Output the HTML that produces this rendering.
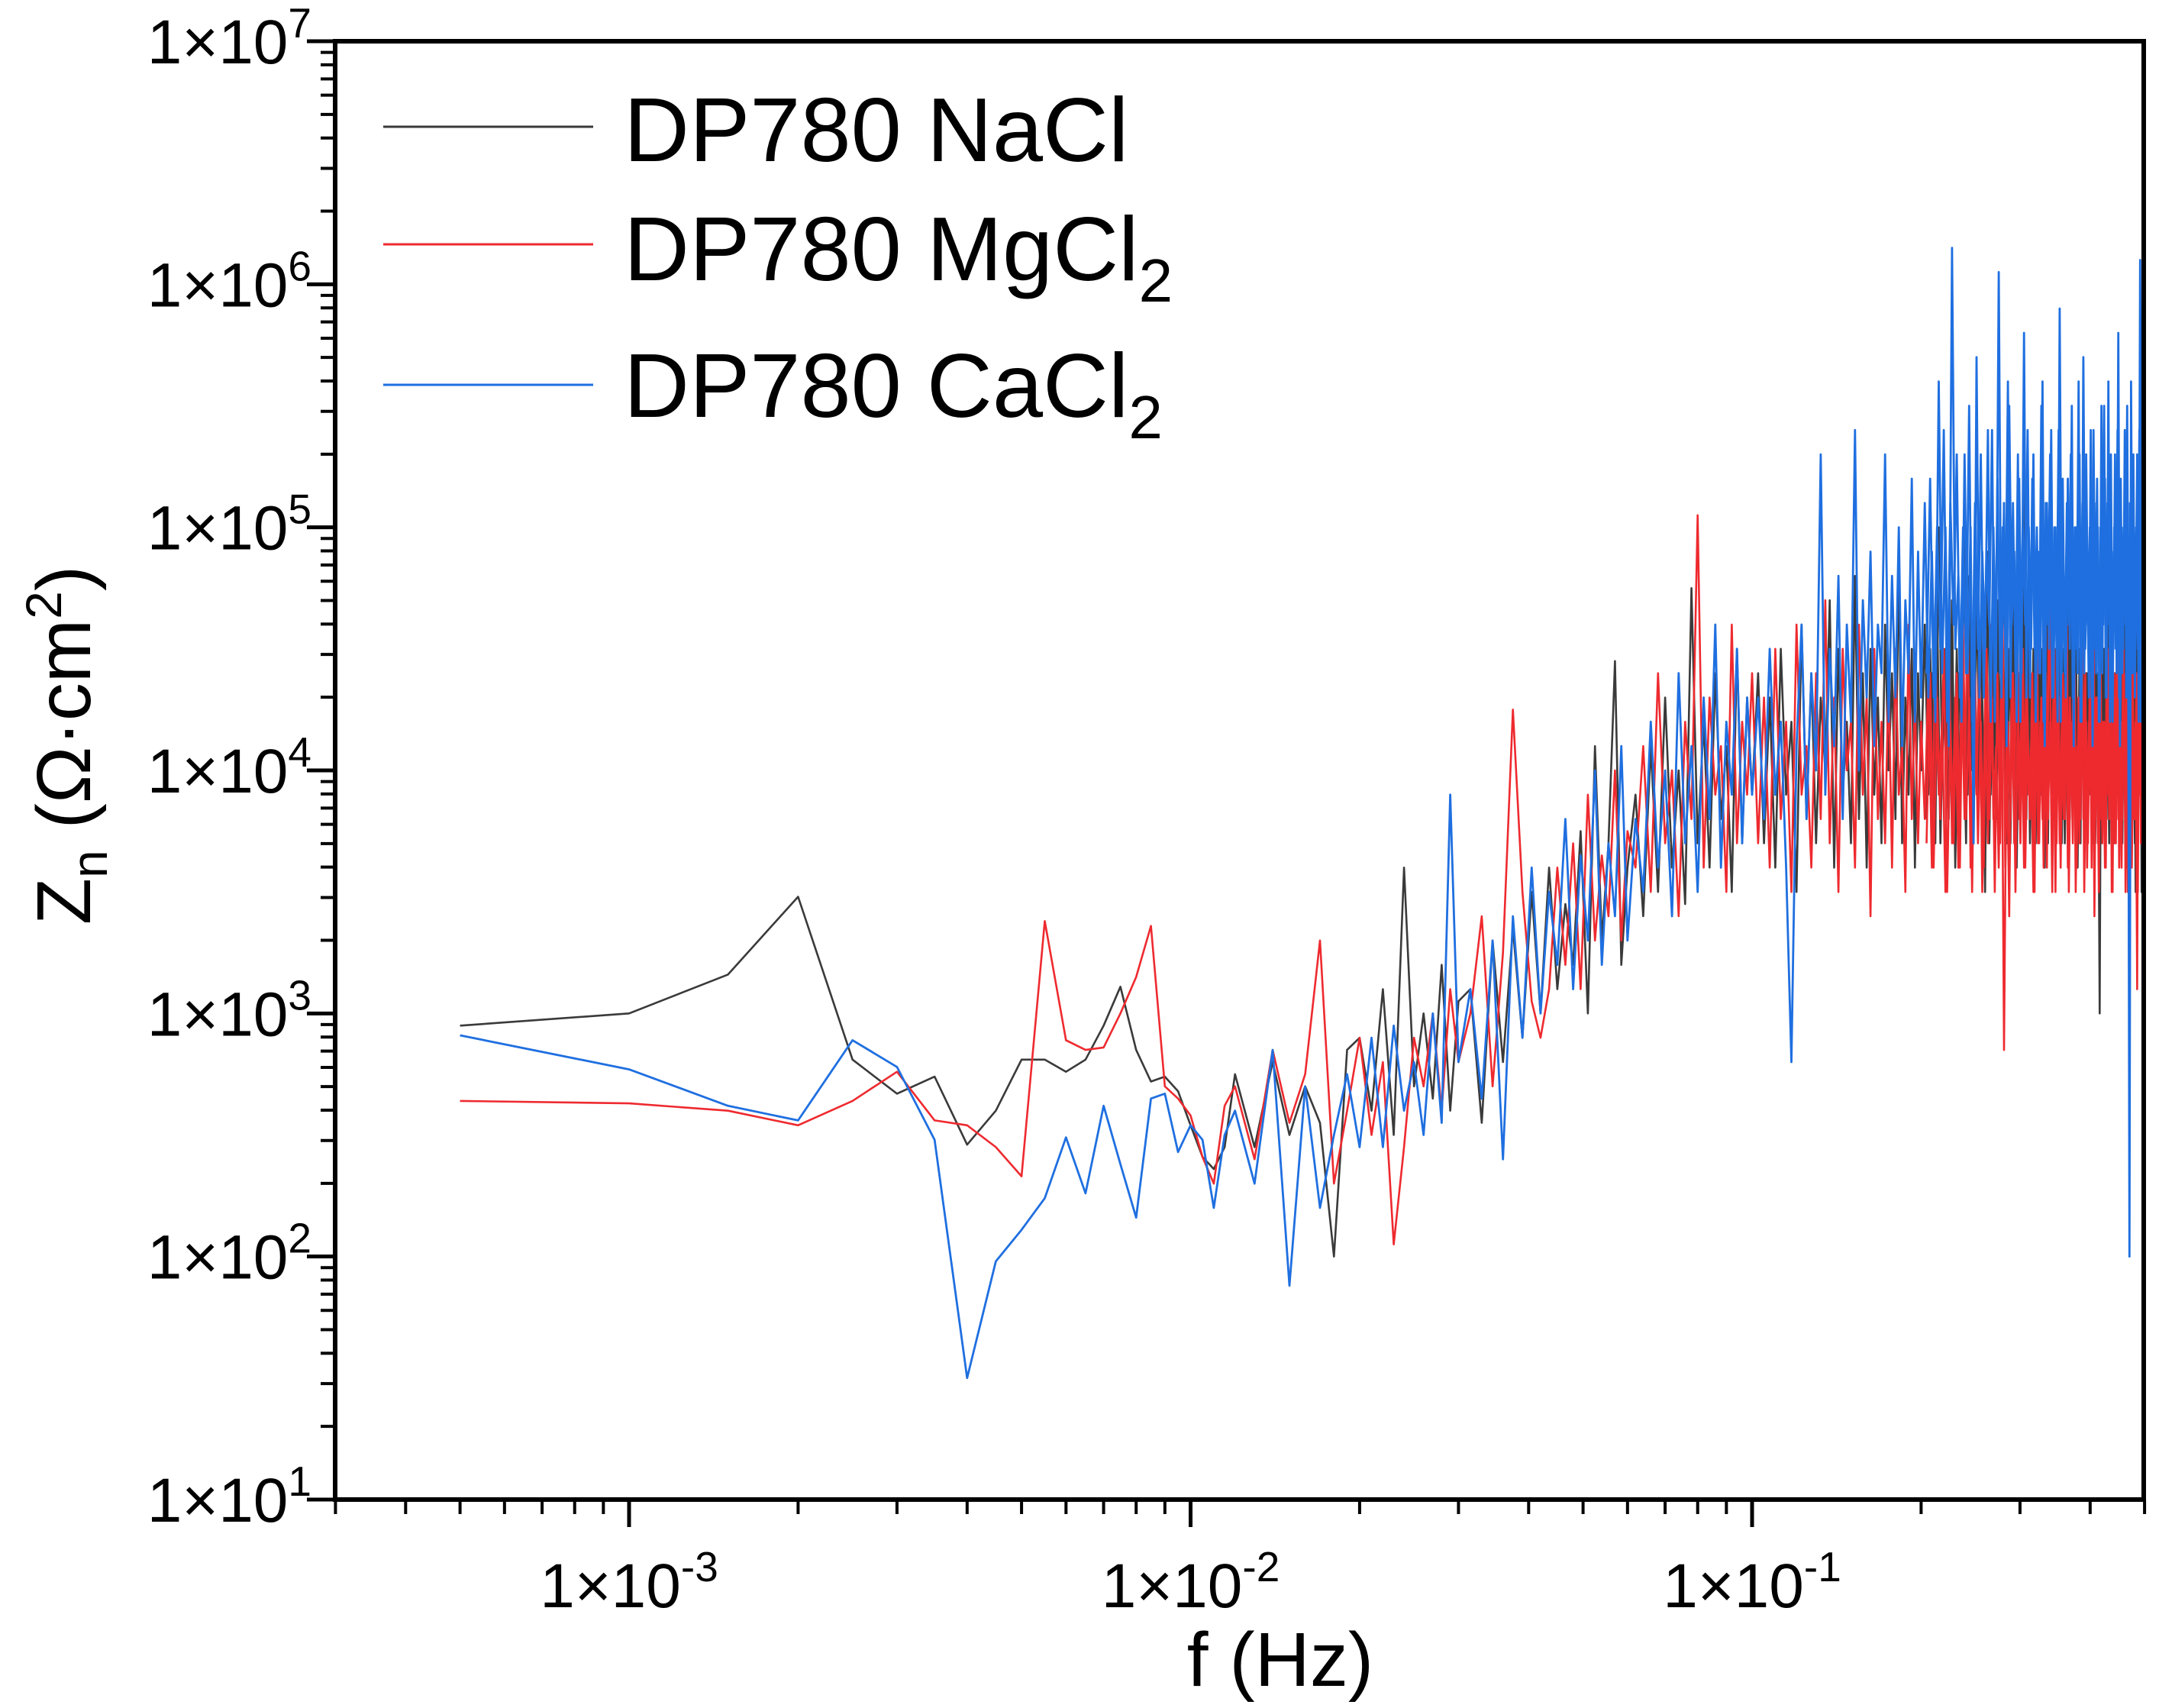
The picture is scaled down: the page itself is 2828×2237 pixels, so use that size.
<!DOCTYPE html>
<html><head><meta charset="utf-8"><style>
html,body{margin:0;padding:0;background:#fff;}
svg{display:block;font-family:"Liberation Sans",Arial,sans-serif;}
</style></head><body>
<svg id="chart" width="2828" height="2237" viewBox="0 0 2828 2237" xmlns="http://www.w3.org/2000/svg">
<defs><clipPath id="pc"><rect x="439" y="54" width="2369" height="1910"/></clipPath></defs>
<g id="series" clip-path="url(#pc)"></g>
<g id="axes"></g>
<g id="legend">
  <line x1="502" y1="166" x2="777" y2="166" stroke="#3a3a3a" stroke-width="3"/>
  <text x="817" y="211" font-size="119">DP780 NaCl</text>
  <line x1="502" y1="320" x2="777" y2="320" stroke="#ee2a2f" stroke-width="3"/>
  <text x="817" y="367" font-size="119">DP780 MgCl<tspan font-size="80" dy="28">2</tspan></text>
  <line x1="502" y1="504" x2="777" y2="504" stroke="#1f6fe0" stroke-width="3"/>
  <text x="817" y="546" font-size="119">DP780 CaCl<tspan font-size="80" dy="28">2</tspan></text>
</g>
<text x="1677" y="2208" font-size="100" text-anchor="middle">f (Hz)</text>
<text transform="translate(118,976) rotate(-90)" font-size="100" text-anchor="middle">Z<tspan font-size="66" dy="22">n</tspan><tspan dy="-22"> (Ω·cm</tspan><tspan font-size="66" dy="-38">2</tspan><tspan dy="38">)</tspan></text>
</svg>
<script>
const dF = 0.0005;
const freqK = [1,2,3,4,5,6,7,8,9,10,11,12,13,14,15,16,17,18,19,20,21,22,23,
24,26,28,30,32,34,36,38,40,42,44,46,48,50,52,54,56,58,60,
63,66,69,72,75,78,81,84,87,90,93,96,99,102,105,108,111,114,117,120,
124,128,132,136,140,144,148,152,156,160,164,168,172,176,180,184,188,192,196,200,
205,210,215,220,225,230,235,240,245,250,255,260,265,270,275,280,285,290,295,300,305,310,315,320,325,330,335,340,345,350,355,360,365,370,375,380,385,390,395,400,
406,412,418,424,430,436,442,448,454,460,466,472,478,484,490,496,502,508,514,520,526,532,538,544,550,556,562,568,574,580,586,592,598,604,610,616,622,628,634,640,646,652,658,664,670,676,682,688,694,700,706,712,718,724,730,736,742,748,754,760,766,772,778,784,790,796,802,808,814,820,826,832,838,844,850,856,862,868,874,880,886,892,898,904,910,916,922,928,934,940,946,952,958,964,970,976,982,988,994,1000];
const freqK2 = [409,415,421,427,433,439,445,451,457,463,469,475,481,487,493,499,505,511,517,523,529,535,541,547,553,559,565,571,577,583,589,595,601,607,613,619,625,631,637,643,649,655,661,667,673,679,685,691,697,703,709,715,721,727,733,739,745,751,757,763,769,775,781,787,793,799,805,811,817,823,829,835,841,847,853,859,865,871,877,883,889,895,901,907,913,919,925,931,937,943,949,955,961,967,973,979,985,991,997];
const logNaCl = [2.95,3.0,3.16,3.48,2.81,2.67,2.74,2.46,2.6,2.81,2.81,2.76,2.81,2.95,3.11,2.85,2.72,2.74,2.68,2.54,2.41,2.36,2.45,
2.75,2.45,2.8,2.5,2.7,2.55,2.0,2.85,2.9,2.6,3.1,2.5,3.6,2.7,3.0,2.65,3.2,2.6,3.05,
3.1,2.55,3.3,2.8,3.35,2.9,3.5,3.0,3.6,3.1,3.45,3.2,3.75,3.0,4.1,3.3,3.7,4.45,3.2,3.6,
3.9,3.4,4.1,3.5,4.3,3.6,4.0,3.45,4.75,3.7,4.2,3.6,4.4,3.8,4.1,3.5,4.5,3.7,4.3,3.9,
4.4,3.7,4.3,3.6,4.5,3.9,4.2,3.5,4.6,3.8,4.4,3.7,4.3,4.0,4.7,3.6,4.5,3.9,4.2,3.7,4.8,3.8,4.4,3.6,4.5,3.9,4.3,3.7,4.6,4.0,4.4,3.8,4.9,3.7,4.3,3.9,4.5,3.6,4.4,4.0,
4.6,3.9,4.4,3.7,5.0,4.0,4.5,3.8,4.7,3.6,4.4,4.1,5.2,3.9,4.5,3.7,4.8,4.0,4.3,3.5,4.9,3.9,4.6,3.8,4.4,4.1,5.1,3.7,4.5,4.0,4.8,3.6,4.4,3.9,5.3,3.8,4.6,4.0,4.5,3.7,4.9,3.9,4.3,3.6,4.7,4.0,5.0,3.8,4.5,3.9,4.6,3.7,4.4,4.1,5.2,3.8,4.6,3.9,4.8,3.6,4.5,4.0,4.7,3.8,4.4,3.9,5.0,3.7,4.6,4.0,4.3,3.0,4.8,3.9,4.5,3.8,5.1,4.0,4.6,3.7,4.4,3.9,4.9,3.8,4.5,4.1,4.7,3.6,4.4,3.9,5.0,3.8,4.6,3.5,4.5,3.9,4.8,3.5,4.6,4.2];
const logNaCl2 = [3.8,4.5,3.9,4.7,3.7,4.4,4.0,4.6,3.8,4.5,3.9,4.3,3.7,4.8,4.0,4.4,3.8,4.6,3.9,4.5,3.7,4.4,4.0,4.7,3.8,4.5,3.9,4.3,3.7,4.6,4.0,4.4,3.8,4.8,3.9,4.5,3.7,4.4,4.0,4.6,3.8,4.5,3.9,4.3,3.7,4.7,4.0,4.4,3.8,4.6,3.9,4.5,3.7,4.4,4.0,4.8,3.8,4.5,3.9,4.3,3.7,4.6,4.0,4.4,3.8,4.7,3.9,4.5,3.7,4.4,4.0,4.6,3.8,4.5,3.9,4.3,3.7,4.8,4.0,4.4,3.8,4.6,3.9,4.5,3.7,4.4,4.0,4.7,3.8,4.5,3.9,4.3,3.7,4.6,4.0,4.4,3.8,4.5,3.9];
const logMgCl2 = [2.64,2.63,2.6,2.54,2.64,2.76,2.56,2.54,2.45,2.33,3.38,2.89,2.85,2.86,3.0,3.15,3.36,2.7,2.65,2.58,2.41,2.3,2.62,
2.7,2.4,2.85,2.55,2.75,3.3,2.3,2.6,2.9,2.5,2.8,2.05,2.45,2.9,2.7,3.0,2.6,3.1,2.8,
3.0,3.4,2.7,3.25,4.25,3.5,3.05,2.9,3.1,3.6,3.2,3.7,3.1,3.9,3.3,3.65,3.4,4.0,3.3,3.75,
3.6,4.1,3.5,4.4,3.7,4.0,3.4,4.2,3.8,5.05,3.6,4.3,3.9,4.1,3.5,4.6,3.7,4.2,3.9,4.4,
3.7,4.3,3.6,4.5,3.8,4.2,3.5,4.6,3.9,4.1,3.6,4.4,3.8,4.7,3.7,4.3,3.5,4.5,4.0,4.2,3.6,4.6,3.9,4.3,3.4,4.5,3.8,4.2,3.7,4.4,3.6,4.5,3.9,4.1,3.5,4.6,3.8,4.3,3.7,4.2,
3.8,4.4,3.6,4.5,3.9,4.2,3.5,4.6,3.7,4.3,3.6,4.4,3.8,4.7,3.6,4.2,3.9,4.5,3.5,4.3,3.7,4.6,3.8,4.1,3.6,4.5,2.85,4.2,3.4,4.4,3.7,4.8,3.8,4.3,3.6,4.5,3.9,4.1,3.5,4.6,3.7,4.2,3.8,4.4,3.6,4.9,3.9,4.3,3.5,4.5,3.7,4.2,3.8,4.6,3.6,4.3,3.9,4.5,3.5,4.1,3.7,4.7,3.8,4.4,3.6,4.2,3.9,4.5,3.4,4.3,3.7,4.6,3.8,4.2,3.6,4.4,3.9,4.8,3.5,4.3,3.7,4.5,3.8,4.2,3.6,4.6,3.9,4.3,3.5,4.4,3.7,4.5,3.8,4.2,3.1,4.7,3.9,4.4,3.6,4.3];
const logMgCl2b = [3.7,4.4,3.6,4.3,3.8,4.5,3.5,4.2,3.7,4.4,3.6,4.6,3.8,4.3,3.5,4.4,3.7,4.2,3.6,4.5,3.8,4.3,3.5,4.4,3.7,4.6,3.6,4.2,3.8,4.4,3.5,4.3,3.7,4.5,3.6,4.2,3.8,4.4,3.5,4.6,3.7,4.3,3.6,4.4,3.8,4.2,3.5,4.5,3.7,4.3,3.6,4.4,3.8,4.6,3.5,4.2,3.7,4.4,3.6,4.3,3.8,4.5,3.5,4.2,3.7,4.4,3.6,4.6,3.8,4.3,3.5,4.4,3.7,4.2,3.6,4.5,3.8,4.3,3.5,4.4,3.7,4.6,3.6,4.2,3.8,4.4,3.5,4.3,3.7,4.5,3.6,4.2,3.8,4.4,3.5,4.6,3.7,4.3,3.6];
const logCaCl2 = [2.91,2.77,2.62,2.56,2.89,2.78,2.48,1.5,1.98,2.11,2.24,2.49,2.26,2.62,2.38,2.16,2.65,2.67,2.43,2.54,2.48,2.2,2.5,
2.6,2.3,2.85,1.88,2.7,2.2,2.5,2.75,2.45,2.9,2.45,2.95,2.6,2.8,2.5,3.0,2.55,3.9,2.8,
3.1,2.65,3.3,2.4,3.4,2.9,3.6,3.0,3.5,3.2,3.8,3.1,3.65,3.3,4.0,3.2,3.7,3.4,4.1,3.3,
3.8,3.5,4.2,3.6,4.0,3.4,4.4,3.7,4.1,3.5,4.3,3.8,4.6,3.6,4.2,3.9,4.5,3.7,4.3,3.9,
4.3,3.8,4.5,3.9,4.2,3.6,2.8,4.1,4.6,3.8,4.4,4.0,5.3,3.9,4.5,4.1,4.8,3.8,4.6,4.2,5.4,4.0,4.7,4.3,4.9,4.1,4.6,4.4,5.3,4.2,4.8,4.3,5.0,4.1,4.7,4.4,5.2,4.2,4.9,4.3,
5.1,4.3,4.9,4.2,5.6,4.4,5.0,4.1,6.15,4.5,4.8,4.2,5.3,4.4,5.0,3.7,5.7,4.3,4.9,4.5,5.4,4.2,5.0,4.4,6.05,4.3,5.1,4.1,5.5,4.6,4.9,4.2,5.2,4.4,5.8,4.3,5.0,4.5,5.3,4.2,4.9,4.4,5.6,4.1,5.1,4.5,5.4,4.3,5.0,4.2,5.9,4.4,4.8,4.3,5.2,4.5,5.5,4.1,5.0,4.4,5.3,4.2,5.7,4.5,4.9,4.3,5.4,4.1,5.1,4.4,5.0,4.2,5.5,4.6,5.2,4.3,5.6,4.2,4.9,4.5,5.3,4.4,5.8,4.1,5.0,4.5,5.4,4.3,5.1,2.0,5.6,4.4,5.0,4.6,5.3,4.2,6.1,4.5,5.0,6.8];
const logCaCl2b = [4.4,5.2,4.3,5.0,4.5,5.4,4.2,5.1,4.6,5.3,4.3,5.0,4.4,5.5,4.2,5.1,4.5,5.3,4.3,4.9,4.6,5.4,4.2,5.2,4.4,5.0,4.5,5.6,4.3,5.1,4.4,5.3,4.2,5.0,4.6,5.4,4.3,5.2,4.5,5.0,4.4,5.5,4.2,5.1,4.6,5.3,4.3,5.0,4.5,5.4,4.2,5.2,4.4,5.1,4.6,5.3,4.3,5.0,4.5,5.6,4.2,5.1,4.4,5.3,4.6,5.0,4.3,5.4,4.5,5.2,4.2,5.0,4.4,5.5,4.3,5.1,4.6,5.3,4.2,5.0,4.5,5.4,4.3,5.2,4.4,5.0,4.6,5.5,4.2,5.1,4.4,5.3,4.3,5.0,4.5,5.4,4.2,5.2,4.6];
const yTickExp = [1,2,3,4,5,6,7];
const xTickExp = [-3,-2,-1];

const NS = "http://www.w3.org/2000/svg";
function xPix(f){ return 824 + (Math.log10(f) + 3) * 735.5; }
function yPix(lg){ return 1964 - (lg - 1) * 318.33; }
function mk(tag, attrs, parent){
  const e = document.createElementNS(NS, tag);
  for (const k in attrs) e.setAttribute(k, attrs[k]);
  parent.appendChild(e); return e;
}
const sg = document.getElementById('series');
function drawSeries(ks, vals, color, name, w){
  const n = Math.min(vals.length, ks.length);
  let d = "";
  for (let i = 0; i < n; i++){
    d += (i ? "L" : "M") + xPix(ks[i] * dF).toFixed(1) + " " + yPix(vals[i]).toFixed(1);
  }
  const p = mk('path', {d: d, fill: 'none', stroke: color, 'stroke-width': w, 'stroke-linejoin': 'round'}, sg);
  
  
}
drawSeries(freqK, logNaCl, '#3a3a3a', 'series-nacl', 2.6);
drawSeries(freqK2, logNaCl2, '#3a3a3a', 'series-nacl-dense', 2.6);
drawSeries(freqK, logMgCl2, '#ee2a2f', 'series-mgcl2', 2.6);
drawSeries(freqK2, logMgCl2b, '#ee2a2f', 'series-mgcl2-dense', 2.6);
drawSeries(freqK, logCaCl2, '#1f6fe0', 'series-cacl2', 2.8);
drawSeries(freqK2, logCaCl2b, '#1f6fe0', 'series-cacl2-dense', 2.8);

const ax = document.getElementById('axes');
const frame = mk('path', {d: 'M439 54 H2808 V1964 H439 Z', fill: 'none', stroke: '#000', 'stroke-width': 6}, ax);


for (let e = 1; e <= 7; e++){
  const y = yPix(e);
  const t = mk('line', {x1: 402, x2: 439, y1: y, y2: y, stroke: '#000', 'stroke-width': 5}, ax);
  
  
  if (e < 7){
    for (let m = 2; m <= 9; m++){
      const ym = yPix(e + Math.log10(m));
      const mt = mk('line', {x1: 420, x2: 439, y1: ym, y2: ym, stroke: '#000', 'stroke-width': 4}, ax);
      
      
    }
  }
}
yTickExp.forEach(function(e){
  const tx = mk('text', {x: 408, y: yPix(e) + 29, 'font-size': 82, 'text-anchor': 'end'}, ax);
  
  
  tx.innerHTML = '1×10<tspan font-size="55" dy="-34">' + e + '</tspan>';
});
for (let e = -4; e <= -1; e++){
  for (let m = 1; m <= 9; m++){
    const f = m * Math.pow(10, e);
    if (f < 3e-4 - 1e-9 || f > 0.5 + 1e-9) continue;
    const x = xPix(f);
    const major = (m === 1);
    const t = mk('line', {x1: x, x2: x, y1: 1964, y2: major ? 2000 : 1983, stroke: '#000', 'stroke-width': major ? 5 : 4}, ax);
    
    
  }
}
xTickExp.forEach(function(e){
  const tx = mk('text', {x: xPix(Math.pow(10, e)), y: 2105, 'font-size': 82, 'text-anchor': 'middle'}, ax);
  
  
  tx.innerHTML = '1×10<tspan font-size="55" dy="-34">' + e + '</tspan>';
});
</script>
</body></html>
